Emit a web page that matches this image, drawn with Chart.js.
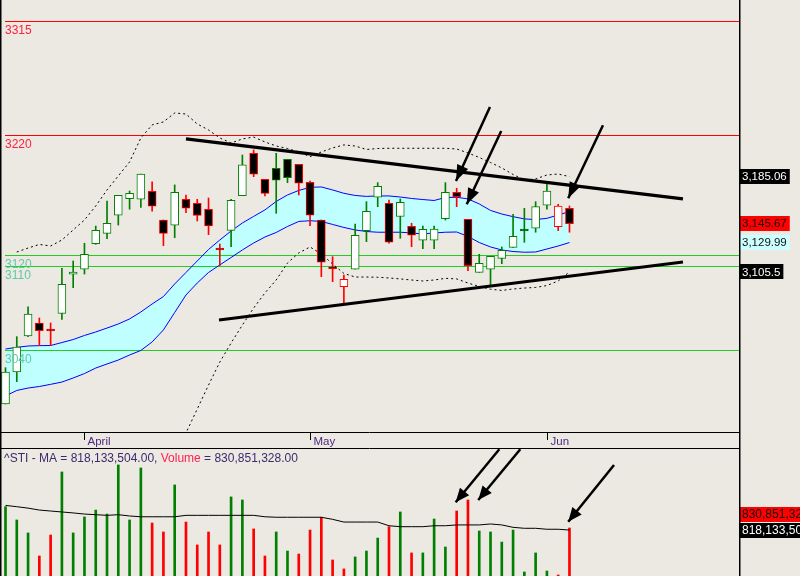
<!DOCTYPE html>
<html>
<head>
<meta charset="utf-8">
<script src="https://cdn.jsdelivr.net/npm/chart.js@4.4.1/dist/chart.umd.min.js"></script>
<style>
  html, body { margin: 0; padding: 0; background: #ece8e2; }
  #wrap { position: relative; width: 800px; height: 576px; overflow: hidden; }
  #priceChart { position: absolute; left: 0; top: 0; }
  #volChart { position: absolute; left: 0; top: 449px; }
</style>
</head>
<body>
<div id="wrap">
  <canvas id="priceChart" width="800" height="449"></canvas>
  <canvas id="volChart" width="800" height="127"></canvas>
</div>
<script>
// ---- data (one entry per trading day, 1 = first candle on the left) ----
const open = [2995.2, 3021.9, 3052.0, 3062.8, 3057.8, 3070.9, 3103.5, 3107.7, 3129.0, 3137.7,
  3152.8, 3166.6, 3166.1, 3172.8, 3148.8, 3144.4, 3166.1, 3162.8, 3157.8, 3125.4,
  3140.2, 3169.1, 3204.5, 3182.8, 3192.0, 3199.5, 3195.3, 3180.3, 3148.8, 3109.8,
  3093.1, 3107.7, 3139.9, 3167.8, 3162.8, 3151.7, 3143.6, 3131.9, 3131.9, 3149.9,
  3172.0, 3149.4, 3105.1, 3107.7, 3116.8, 3126.0, 3141.3, 3141.9, 3161.1, 3143.2, 3158.6];
const high = [3025.5, 3051.4, 3076.4, 3067.0, 3062.8, 3108.5, 3114.6, 3129.4, 3143.8, 3164.7,
  3169.4, 3173.0, 3187.2, 3180.6, 3148.8, 3178.1, 3169.7, 3166.1, 3167.2, 3128.8,
  3166.1, 3203.1, 3207.3, 3182.8, 3204.5, 3199.5, 3195.3, 3181.4, 3148.8, 3118.2,
  3102.9, 3145.5, 3164.1, 3180.0, 3165.5, 3166.4, 3146.1, 3143.8, 3143.8, 3180.0,
  3175.3, 3149.4, 3120.2, 3118.5, 3126.3, 3153.6, 3158.6, 3164.1, 3179.5, 3161.9, 3160.5];
const low = [2995.2, 3013.8, 3051.4, 3043.9, 3043.9, 3065.9, 3092.3, 3103.7, 3128.5, 3133.2,
  3144.6, 3157.8, 3159.4, 3156.1, 3127.4, 3134.0, 3154.9, 3148.0, 3136.6, 3110.7,
  3126.5, 3169.1, 3185.0, 3168.9, 3154.4, 3180.0, 3169.7, 3144.1, 3101.5, 3097.3,
  3077.8, 3107.7, 3130.7, 3159.9, 3129.4, 3133.5, 3126.5, 3124.9, 3124.9, 3148.8,
  3159.9, 3106.5, 3105.1, 3093.7, 3112.3, 3126.0, 3130.2, 3138.6, 3157.8, 3139.9, 3138.6];
const close = [3021.9, 3042.8, 3070.3, 3056.4, 3056.1, 3095.1, 3105.4, 3120.2, 3140.2, 3146.1,
  3169.4, 3171.1, 3187.2, 3160.3, 3137.7, 3172.0, 3158.6, 3152.6, 3143.8, 3123.8,
  3165.3, 3194.8, 3187.0, 3171.1, 3182.0, 3184.2, 3179.5, 3152.8, 3113.5, 3108.2,
  3099.3, 3136.1, 3156.1, 3177.0, 3130.2, 3163.6, 3136.1, 3141.1, 3141.3, 3172.0,
  3168.3, 3110.7, 3112.7, 3118.5, 3123.5, 3135.2, 3139.6, 3160.0, 3173.0, 3160.5, 3145.67];

// blue moving-average envelope (cyan band)
const maUpper = [3041.1, 3042.5, 3043.6, 3043.9, 3044.0, 3046.5, 3049.0, 3052.4, 3055.3, 3058.6,
  3062.0, 3066.2, 3072.0, 3078.7, 3084.9, 3095.4, 3105.0, 3114.6, 3124.2, 3132.1,
  3139.6, 3146.3, 3151.8, 3157.2, 3164.3, 3169.7, 3173.5, 3176.1, 3176.4, 3173.9,
  3171.1, 3169.3, 3168.5, 3168.9, 3168.9, 3168.0, 3166.8, 3165.9, 3165.1, 3167.6,
  3167.8, 3166.4, 3162.2, 3156.8, 3153.8, 3151.6, 3149.7, 3149.2, 3150.2, 3153.0, 3155.8];
const maLower = [3001.9, 3006.5, 3008.5, 3009.8, 3011.6, 3013.5, 3016.9, 3020.6, 3025.2, 3028.6,
  3031.9, 3036.1, 3039.9, 3047.0, 3057.0, 3071.6, 3086.2, 3096.2, 3105.0, 3111.3,
  3117.5, 3123.8, 3129.6, 3134.6, 3138.4, 3143.4, 3147.6, 3148.2, 3147.6, 3145.1,
  3142.6, 3140.5, 3139.2, 3138.6, 3138.6, 3138.6, 3138.0, 3137.1, 3138.0, 3138.6,
  3138.8, 3135.1, 3130.0, 3126.3, 3123.8, 3122.5, 3121.9, 3122.1, 3124.6, 3127.1, 3129.99];

// dotted bands
const bbUpper = [null, 3122.1, 3125.4, 3128.4, 3127.1, 3132.1, 3140.5, 3148.8, 3160.5, 3173.9,
  3185.6, 3197.3, 3217.3, 3228.2, 3230.7, 3238.2, 3237.3, 3229.0, 3224.0, 3217.3,
  3213.1, 3216.5, 3218.1, 3214.0, 3210.6, 3208.5, 3205.6, 3201.7, 3205.6, 3209.0,
  3211.5, 3210.6, 3207.7, 3208.5, 3208.7, 3208.7, 3208.7, 3208.7, 3208.7, 3208.7,
  3208.1, 3204.8, 3201.0, 3196.8, 3192.3, 3186.8, 3182.2, 3183.1, 3186.4, 3187.2, 3185.06];
const bbLower = [null, null, null, null, null, null, null, null, null, null,
  null, null, null, null, 2931.7, 2951.7, 2971.0, 2991.0, 3011.0, 3030.2,
  3046.1, 3061.1, 3075.3, 3087.9, 3098.7, 3112.9, 3121.3, 3126.3, 3120.4, 3112.1,
  3104.2, 3101.2, 3101.2, 3101.0, 3100.4, 3099.6, 3098.7, 3097.9, 3098.7, 3100.1,
  3099.6, 3096.2, 3093.3, 3091.0, 3090.0, 3091.2, 3092.0, 3092.5, 3094.1, 3097.9, 3105.5];

// volume and its moving average, in millions of shares
const volume = [964, 881, 800, 656, 787, 1181, 800, 900, 943, 918,
  1225, 881, 1206, 862, 806, 1100, 868, 725, 806, 725,
  1025, 1006, 825, 656, 806, 687, 668, 818, 898, 631,
  575, 650, 687, 768, 839, 931, 675, 675, 887, 712,
  937, 1006, 812, 806, 743, 818, 556, 675, 562, 537, 830.851328];
const volMA = [972, 964, 955, 943, 937, 931, 925, 918, 914, 910,
  914, 906, 901, 901, 901, 901, 910, 910, 910, 910,
  910, 910, 910, 901, 898, 898, 898, 898, 898, 885,
  868, 868, 868, 868, 845, 839, 839, 839, 845, 845,
  850, 850, 850, 856, 850, 835, 829, 829, 823, 823, 818.133504];

// month starts (candle index) and names
const monthIdx = [7, 27, 48];
const monthNames = ["April", "May", "Jun"];

// horizontal reference levels
const levelValues = [3315, 3220, 3120, 3110, 3040];
const levelKinds = ["res", "res", "sup", "sup", "sup"];

// trend lines and arrows, in (candle index, price) / (candle index, volume)
const trendUpperX = [16.0, 60.06], trendUpperY = [3216.5, 3166.4];
const trendLowerX = [18.93, 60.06], trendLowerY = [3065.3, 3113.8];
const priceArrowsX = [[42.95, 39.94], [43.95, 40.89], [52.97, 49.89]];
const priceArrowsY = [[3243.2, 3181.4], [3223.1, 3161.9], [3227.9, 3167.0]];
const volArrowsX = [[43.78, 39.91], [45.64, 41.91], [53.95, 49.89]];
const volArrowsY = [[1322.7, 991.5], [1322.7, 1005.9], [1224.6, 870.2]];

// right-hand value tags
const priceTags = [3185.06, 3145.67, 3129.99, 3105.5];
const priceTagKinds = ["band", "last", "ma", "band"];

// ---- styling ----
const FONT = '"Liberation Sans", Arial, sans-serif';
const UP = "#008000", DOWN = "#ff0000";
const xRange = { min: -0.488, max: 65.03 };

const idx = close.map((_, i) => i);
const edge = close.map((c, i) => (i === 0 || c >= close[i - 1]) ? UP : DOWN);
const fillC = close.map((c, i) => c >= open[i] ? "#ffffff" : "#000000");
const pts = arr => arr.map((v, i) => ({ x: i, y: v }));
const pair = (xsArr, ysArr) => xsArr.map((x, i) => ({ x, y: ysArr[i] }));
const fmt2 = v => v.toLocaleString("en-US", { minimumFractionDigits: 2, maximumFractionDigits: 2 });

function lineDs(data, color, extra) {
  return Object.assign({
    type: "line", data, borderColor: color, borderWidth: 1, pointRadius: 0,
    tension: 0, fill: false, spanGaps: false
  }, extra || {});
}

function drawHeads(chart, size, half) {
  const ctx = chart.ctx;
  chart.data.datasets.forEach((ds, i) => {
    if (!ds.isArrow) return;
    const m = chart.getDatasetMeta(i);
    const a = m.data[0], b = m.data[1];
    const ang = Math.atan2(b.y - a.y, b.x - a.x);
    const bx = b.x - size * Math.cos(ang), by = b.y - size * Math.sin(ang);
    ctx.save();
    ctx.fillStyle = "#000";
    ctx.beginPath();
    ctx.moveTo(b.x, b.y);
    ctx.lineTo(bx + half * Math.sin(ang), by - half * Math.cos(ang));
    ctx.lineTo(bx - half * Math.sin(ang), by + half * Math.cos(ang));
    ctx.closePath();
    ctx.fill();
    ctx.restore();
  });
}

function tag(ctx, text, cy, bg, fg, size) {
  ctx.font = size + "px " + FONT;
  const w = ctx.measureText(text).width;
  ctx.fillStyle = bg;
  ctx.fillRect(740, Math.round(cy - 7.5), w + 5, 15);
  ctx.fillStyle = fg;
  ctx.textBaseline = "middle";
  ctx.fillText(text, 742, cy + 0.5);
  ctx.textBaseline = "alphabetic";
}

function frame(chart) {
  const { ctx, chartArea } = chart;
  ctx.save();
  ctx.fillStyle = "#000";
  ctx.fillRect(0, 0, 1.5, chart.height);
  ctx.fillRect(chartArea.right, 0, 1.5, chart.height);
  ctx.restore();
}

// ---- price panel ----
const pricePlugin = {
  id: "pricePanel",
  afterDatasetDraw(chart, args) {
    if (args.index !== 0) return; // right after the cyan band fill
    const { ctx, chartArea, scales: { y } } = chart;
    ctx.save();
    ctx.lineWidth = 1;
    levelValues.forEach((v, k) => {
      const py = Math.round(y.getPixelForValue(v)) + 0.5;
      ctx.strokeStyle = levelKinds[k] === "res" ? "#ff0000" : "#22cc22";
      ctx.beginPath(); ctx.moveTo(5, py); ctx.lineTo(chartArea.right, py); ctx.stroke();
    });
    ctx.restore();
  },
  afterDatasetsDraw(chart) {
    const { ctx, scales: { y } } = chart;
    drawHeads(chart, 16, 6);
    ctx.save();
    ctx.font = "12px " + FONT;
    levelValues.forEach((v, k) => {
      const py = Math.round(y.getPixelForValue(v));
      ctx.fillStyle = levelKinds[k] === "res" ? "#ff2040" : "#5fc9a6";
      ctx.fillText(String(v), 5, py + 12.5);
    });
    ctx.restore();
  },
  afterDraw(chart) {
    const { ctx, chartArea, scales: { x, y } } = chart;
    ctx.save();
    // date strip
    ctx.strokeStyle = "#000"; ctx.lineWidth = 1;
    ctx.beginPath();
    ctx.moveTo(0, chartArea.bottom + 0.5); ctx.lineTo(chartArea.right, chartArea.bottom + 0.5);
    ctx.moveTo(0, chart.height - 0.5); ctx.lineTo(chartArea.right, chart.height - 0.5);
    ctx.stroke();
    ctx.font = "11.5px " + FONT;
    monthIdx.forEach((mi, k) => {
      const px = Math.round(x.getPixelForValue(mi)) + 0.5;
      ctx.beginPath(); ctx.moveTo(px, chartArea.bottom + 1); ctx.lineTo(px, chartArea.bottom + 8); ctx.stroke();
      ctx.fillStyle = "#4a2a80";
      ctx.fillText(monthNames[k], px + 3, chartArea.bottom + 13);
    });
    // value tags
    priceTags.forEach((v, k) => {
      const kind = priceTagKinds[k];
      const bg = kind === "last" ? "#ff0000" : kind === "ma" ? "#ccffff" : "#000000";
      const fg = kind === "band" ? "#ffffff" : "#111111";
      tag(ctx, fmt2(v).replace(/\.50$/, ".5"), y.getPixelForValue(v), bg, fg, 11.5);
    });
    ctx.restore();
    frame(chart);
  }
};

const priceDatasets = [
  lineDs(pts(maUpper), "rgba(0,0,0,0)", { borderWidth: 0, fill: 1, backgroundColor: "#c0ffff", order: 100 }),
  lineDs(pts(maLower), "#0000ff", { order: 60 }),
  lineDs(pts(maUpper), "#0000ff", { order: 60 }),
  lineDs(pts(bbUpper), "#000000", { borderDash: [2, 3], order: 60 }),
  lineDs(pts(bbLower), "#000000", { borderDash: [2, 3], order: 60 }),
  {
    type: "bar", data: idx.map(i => ({ x: i, y: [low[i], high[i]] })),
    backgroundColor: edge, borderWidth: 0, barThickness: 1, grouped: false, order: 40
  },
  {
    type: "bar", data: idx.map(i => ({ x: i, y: [open[i], close[i]] })),
    backgroundColor: fillC, borderColor: edge, borderWidth: 1, borderSkipped: false,
    barThickness: 8, grouped: false, order: 30
  },
  lineDs(pair(trendUpperX, trendUpperY), "#000000", { borderWidth: 3.2, order: 10 }),
  lineDs(pair(trendLowerX, trendLowerY), "#000000", { borderWidth: 3, order: 10 })
];
priceArrowsX.forEach((ax, k) => {
  priceDatasets.push(lineDs(pair(ax, priceArrowsY[k]), "#000000", { borderWidth: 2.5, isArrow: true, order: 5 }));
});

new Chart(document.getElementById("priceChart"), {
  type: "line",
  data: { datasets: priceDatasets },
  options: {
    responsive: false, animation: false,
    layout: { padding: { left: 0, right: 61, top: 0, bottom: 17 } },
    plugins: { legend: { display: false }, tooltip: { enabled: false } },
    scales: {
      x: { type: "linear", min: xRange.min, max: xRange.max, offset: false, display: false },
      y: { type: "linear", min: 2971.8, max: 3332.5, display: false }
    }
  },
  plugins: [pricePlugin]
});

// ---- volume panel ----
const volPlugin = {
  id: "volPanel",
  afterDatasetsDraw(chart) { drawHeads(chart, 14, 6); },
  afterDraw(chart) {
    const { ctx, scales: { y } } = chart;
    const lastVol = volume[volume.length - 1], lastMA = volMA[volMA.length - 1];
    ctx.save();
    ctx.font = "12px " + FONT;
    const parts = [
      ["^STI - MA = " + fmt2(lastMA * 1e6) + ", ", "#3c2a6e"],
      ["Volume", "#ff2255"],
      [" = " + fmt2(lastVol * 1e6), "#3c2a6e"]
    ];
    let tx = 4;
    parts.forEach(([t, c]) => { ctx.fillStyle = c; ctx.fillText(t, tx, 12.5); tx += ctx.measureText(t).width; });
    const maY = y.getPixelForValue(lastMA);
    const vY = Math.min(y.getPixelForValue(lastVol), maY - 16);
    tag(ctx, Math.round(lastVol * 1e6).toLocaleString("en-US"), vY, "#ff0000", "#111111", 12);
    tag(ctx, Math.round(lastMA * 1e6).toLocaleString("en-US"), maY, "#000000", "#ffffff", 12);
    ctx.restore();
    frame(chart);
  }
};

const volDatasets = [
  {
    type: "bar", data: idx.map(i => ({ x: i, y: volume[i] })),
    backgroundColor: edge, borderWidth: 0, barThickness: 2, grouped: false, order: 20
  },
  lineDs(pts(volMA), "#000000", { order: 10 })
];
volArrowsX.forEach((ax, k) => {
  volDatasets.push(lineDs(pair(ax, volArrowsY[k]), "#000000", { borderWidth: 2.5, isArrow: true, clip: false, order: 5 }));
});

new Chart(document.getElementById("volChart"), {
  type: "line",
  data: { datasets: volDatasets },
  options: {
    responsive: false, animation: false,
    layout: { padding: { left: 0, right: 61, top: 0, bottom: 0 } },
    plugins: { legend: { display: false }, tooltip: { enabled: false } },
    scales: {
      x: { type: "linear", min: xRange.min, max: xRange.max, offset: false, display: false },
      y: { type: "linear", min: 530.85, max: 1324.6, display: false }
    }
  },
  plugins: [volPlugin]
});
</script>
</body>
</html>
